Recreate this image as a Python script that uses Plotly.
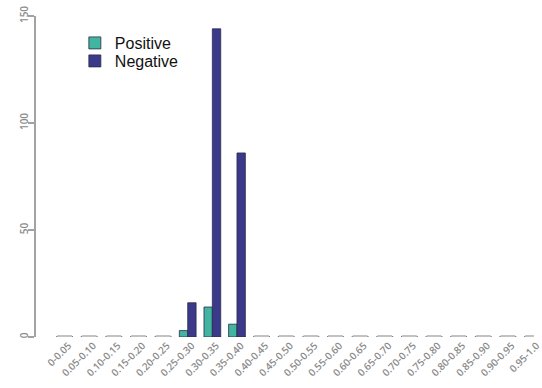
import plotly.graph_objects as go

# Score bins and counts per class
bins = ["0-0.05", "0.05-0.10", "0.10-0.15", "0.15-0.20", "0.20-0.25",
        "0.25-0.30", "0.30-0.35", "0.35-0.40", "0.40-0.45", "0.45-0.50",
        "0.50-0.55", "0.55-0.60", "0.60-0.65", "0.65-0.70", "0.70-0.75",
        "0.75-0.80", "0.80-0.85", "0.85-0.90", "0.90-0.95", "0.95-1.0"]
positive = [0, 0, 0, 0, 0, 3, 14, 6, 0, 0, 0, 0, 0, 0, 0, 0, 0, 0, 0, 0]
negative = [0, 0, 0, 0, 0, 16, 144, 86, 0, 0, 0, 0, 0, 0, 0, 0, 0, 0, 0, 0]
y_ticks = [0, 50, 100, 150]

POS_COLOR = "#41b59f"
NEG_COLOR = "#3b3a8a"
GRAY = "#a2a2a2"
LABEL_FONT = dict(family="Open Sans, DejaVu Sans", size=10, color="#8a8a8a", weight=600)
LEGEND_FONT = dict(family="Liberation Sans, Arial", size=16, color="#111")

fig = go.Figure()
fig.add_trace(go.Bar(x=bins, y=positive, name="Positive", legend="legend",
                     marker=dict(color=POS_COLOR, line=dict(color="#2a2a4a", width=0.8))))
fig.add_trace(go.Bar(x=bins, y=negative, name="Negative", legend="legend2",
                     marker=dict(color=NEG_COLOR, line=dict(color="#2a2a4a", width=0.8))))

# empty bins are shown as a flat gray stub at zero
shapes = []
for i, (p, n) in enumerate(zip(positive, negative)):
    if p == 0 and n == 0:
        shapes.append(dict(type="line", xref="x", yref="y", layer="above",
                           x0=i - 0.3, x1=i + 0.3, y0=0, y1=0,
                           line=dict(color="#c2c2c2", width=4)))

legend_common = dict(xanchor="left", yanchor="middle", font=LEGEND_FONT,
                     bgcolor="rgba(0,0,0,0)", itemwidth=30)

fig.update_layout(
    width=542, height=388,
    margin=dict(l=36, r=0, t=16, b=51),
    paper_bgcolor="white", plot_bgcolor="white",
    barmode="group", bargap=0.32, bargroupgap=0,
    shapes=shapes,
    showlegend=True,
    legend=dict(x=0.078, y=(337 - 43) / 321, **legend_common),
    legend2=dict(x=0.078, y=(337 - 61) / 321, **legend_common),
    xaxis=dict(range=[-1.16, 19.06], showline=False,
               showgrid=False, zeroline=False, ticks="", tickangle=-45,
               ticklabelshift=4, tickfont=LABEL_FONT),
    yaxis=dict(range=[0, 150], showline=True,
               linecolor=GRAY, linewidth=1.6, showgrid=False, zeroline=False,
               ticks="outside", ticklen=6, tickcolor=GRAY, tickwidth=1.6,
               ticklabelstandoff=-4,
               tickvals=y_ticks, tickangle=-90, tickfont=LABEL_FONT),
)

fig.write_html("out.html")
